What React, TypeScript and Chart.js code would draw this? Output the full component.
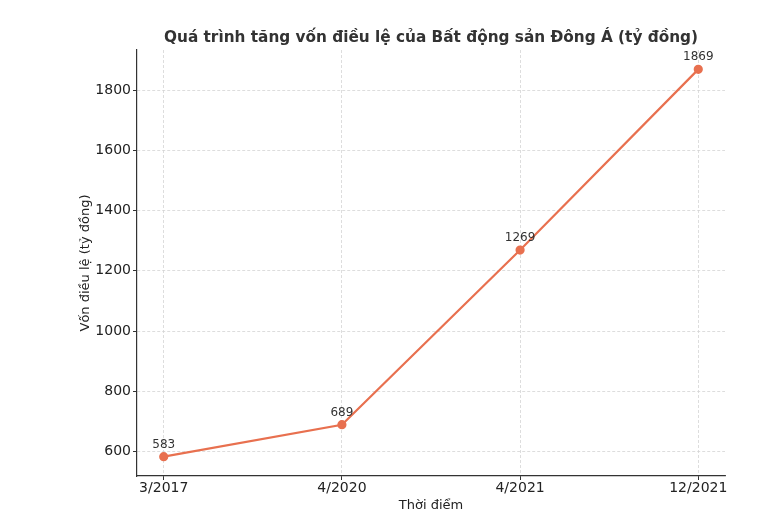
import React, { useEffect, useRef } from "react";
import { Chart, registerables } from "chart.js";

Chart.register(...registerables);

const categories = ["3/2017", "4/2020", "4/2021", "12/2021"];
const capitalValues = [583, 689, 1269, 1869];
const yTicks = [600, 800, 1000, 1200, 1400, 1600, 1800];

const titleText = "Quá trình tăng vốn điều lệ của Bất động sản Đông Á (tỷ đồng)";
const xTitle = "Thời điểm";
const yTitle = "Vốn điều lệ (tỷ đồng)";

const LINE_COLOR = "#E8704F";
const FONT = "'DejaVu Sans', sans-serif";

const labelPlugin = {
  id: "pointLabels",
  afterDatasetsDraw(chart: any) {
    const ctx = chart.ctx;
    const meta = chart.getDatasetMeta(0);
    ctx.save();
    ctx.font = `12px ${FONT}`;
    ctx.fillStyle = "#333333";
    ctx.textAlign = "center";
    ctx.textBaseline = "bottom";
    meta.data.forEach((pt: any, i: number) => {
      ctx.fillText(String(capitalValues[i]), pt.x, pt.y - 6);
    });
    ctx.restore();
  },
};

const titlePlugin = {
  id: "centeredTitle",
  afterDraw(chart: any) {
    const ctx = chart.ctx;
    const area = chart.chartArea;
    ctx.save();
    ctx.font = `bold 15.3px ${FONT}`;
    ctx.fillStyle = "#333333";
    ctx.textAlign = "center";
    ctx.textBaseline = "middle";
    ctx.fillText(titleText, (area.left + area.right) / 2, 38.5);
    ctx.restore();
  },
};

export default function App() {
  const ref = useRef<HTMLCanvasElement | null>(null);
  useEffect(() => {
    if (!ref.current) return;
    const gridOpts = {
      color: "#d4d4d4",
      lineWidth: 0.8,
      drawTicks: true,
      tickLength: 4,
      tickColor: "#333333",
      tickWidth: 1,
    };
    const chart = new Chart(ref.current, {
      type: "line",
      data: {
        datasets: [
          {
            data: capitalValues.map((v, i) => ({ x: i, y: v })),
            borderColor: LINE_COLOR,
            backgroundColor: LINE_COLOR,
            borderWidth: 2.2,
            pointRadius: 3.5,
            pointBackgroundColor: LINE_COLOR,
            pointBorderColor: LINE_COLOR,
            tension: 0,
          },
        ],
      },
      options: {
        responsive: false,
        animation: false,
        layout: { padding: { left: 0, right: 56, top: 50, bottom: 0 } },
        plugins: {
          legend: { display: false },
          tooltip: { enabled: false },
          title: { display: false },
        },
        scales: {
          x: {
            type: "linear",
            min: -0.15,
            max: 3.15,
            afterBuildTicks: (s: any) => {
              s.ticks = categories.map((_, i) => ({ value: i }));
            },
            afterFit: (s: any) => {
              s.height = 50;
            },
            ticks: {
              color: "#222222",
              font: { family: FONT, size: 14 },
              padding: 0,
              maxRotation: 0,
              autoSkip: false,
              callback: (v: any) => categories[Math.round(Number(v))] ?? "",
            },
            grid: gridOpts,
            border: { display: true, color: "#333333", width: 1.2, dash: [3, 2] },
            title: {
              display: true,
              text: xTitle,
              color: "#222222",
              font: { family: FONT, size: 13 },
              padding: { top: 0, bottom: 13 },
            },
          },
          y: {
            type: "linear",
            min: 518.7,
            max: 1933.3,
            afterBuildTicks: (s: any) => {
              s.ticks = yTicks.map((v) => ({ value: v }));
            },
            afterFit: (s: any) => {
              s.width = 137;
            },
            ticks: {
              color: "#222222",
              font: { family: FONT, size: 14 },
              padding: 2,
              callback: (v: any) => String(v),
            },
            grid: gridOpts,
            border: { display: true, color: "#333333", width: 1.2, dash: [3, 2] },
            title: {
              display: true,
              text: yTitle,
              color: "#222222",
              font: { family: FONT, size: 13 },
              padding: { top: 78, bottom: 0 },
            },
          },
        },
      },
      plugins: [labelPlugin, titlePlugin],
    });
    return () => chart.destroy();
  }, []);
  return (
    <div style={{ position: "fixed", left: 0, top: 0, width: 781, height: 526, background: "#fff" }}>
      <canvas ref={ref} width={781} height={526} />
    </div>
  );
}
